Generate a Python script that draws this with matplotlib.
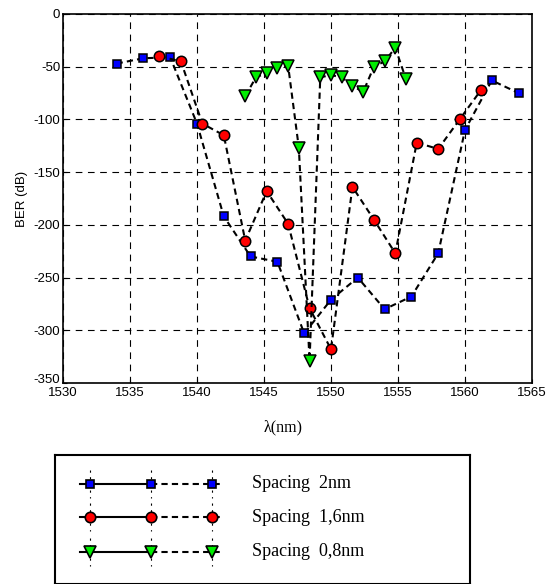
import matplotlib.pyplot as plt
import numpy as np

# longueurs d'onde (nm) et BER (dB) pour chaque espacement
lam_2 = [1534, 1536, 1538, 1540, 1542, 1544, 1546, 1548, 1550, 1552, 1554, 1556, 1558, 1560, 1562, 1564]
ber_2 = [-47, -42, -41, -104, -192, -230, -235, -303, -271, -250, -280, -268, -227, -110, -63, -75]

lam_16 = [1537.2, 1538.8, 1540.4, 1542.0, 1543.6, 1545.2, 1546.8, 1548.4,
          1550.0, 1551.6, 1553.2, 1554.8, 1556.4, 1558.0, 1559.6, 1561.2]
ber_16 = [-40, -45, -104, -115, -215, -168, -199, -279, -318, -164, -195, -227, -122, -128, -100, -72]

lam_08 = [1543.6, 1544.4, 1545.2, 1546.0, 1546.8, 1547.6, 1548.4, 1549.2,
          1550.0, 1550.8, 1551.6, 1552.4, 1553.2, 1554.0, 1554.8, 1555.6]
ber_08 = [-78, -60, -56, -51, -49, -127, -329, -60, -58, -60, -68, -74, -50, -45, -32, -62]

labels = ['Spacing  2nm', 'Spacing  1,6nm', 'Spacing  0,8nm']
styles = [dict(marker='s', mfc='blue', ms=5.5),
          dict(marker='o', mfc='red', ms=7.5),
          dict(marker='v', mfc='#00ee00', ms=8)]

plt.rcParams['axes.unicode_minus'] = False

W, H = 547, 584
fig = plt.figure(figsize=(W / 100, H / 100), dpi=100)
ax = fig.add_axes([63 / W, 1 - 383 / H, (532 - 63) / W, (383 - 14) / H])

for x, y, st in zip([lam_2, lam_16, lam_08], [ber_2, ber_16, ber_08], styles):
    ax.plot(x, y, color='black', ls=(0, (3, 2)), lw=1.5, mec='black', mew=1.1, **st)

ax.set_xlim(1530, 1565)
ax.set_ylim(-350, 0)
ax.set_xticks(np.arange(1530, 1566, 5))
ax.set_yticks(np.arange(-350, 1, 50))
ax.tick_params(direction='in', labelsize=9.5, length=3)
ax.tick_params(axis='x', pad=3)
ax.tick_params(axis='y', pad=2)
for lb in ax.get_xticklabels() + ax.get_yticklabels():
    lb.set_family('Liberation Sans')
# -350 un peu remonté pour ne pas chevaucher 1530
ax.get_yticklabels()[0].set_va('baseline')
ax.grid(True, color='black', ls=(0, (6, 5)), lw=0.8)
for s in ax.spines.values():
    s.set_linewidth(1.2)
ax.set_ylabel('BER (dB)', family='Liberation Sans', fontsize=9.5, labelpad=4)
fig.text(283 / W, 1 - 427 / H, 'λ(nm)', family='Liberation Serif', fontsize=11.5,
         ha='center', va='center')

# cadre de légende dessiné à la main
lg = fig.add_axes([55 / W, 0, (470 - 55) / W, 1 - 455 / H])
lg.set_xlim(55, 470)
lg.set_ylim(H, 455)
lg.set_xticks([])
lg.set_yticks([])
for s in lg.spines.values():
    s.set_linewidth(1.5)
rows = [484, 517, 552]
xm = [90, 151, 212]
for yr, lab, st in zip(rows, labels, styles):
    lg.plot([80, xm[1]], [yr, yr], color='black', lw=1.5)
    lg.plot([xm[1], 223], [yr, yr], color='black', lw=1.5, ls=(0, (3, 2)))
    for xx in xm:
        lg.plot([xx, xx], [yr - 14, yr + 14], color='black', lw=0.8, ls=(0, (2, 4)))
    lg.plot(xm, [yr] * 3, ls='none', mec='black', mew=1.2, **st)
    lg.text(252, yr, lab, family='Liberation Serif', fontsize=13, va='center')

fig.savefig('out.png', dpi=100)
